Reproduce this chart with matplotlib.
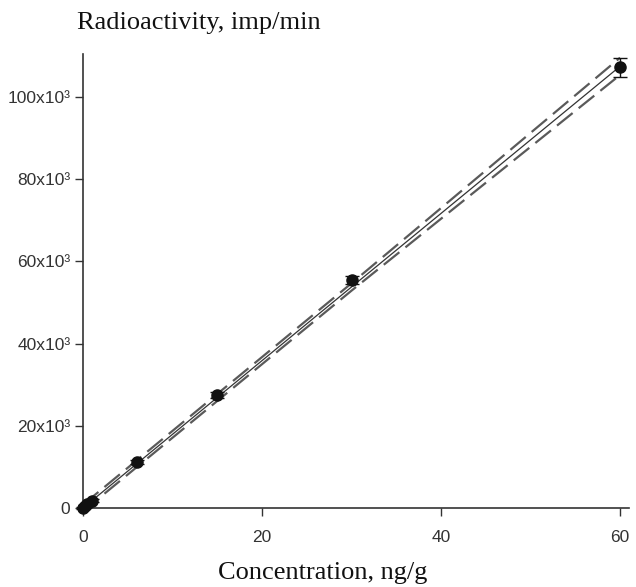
import numpy as np
import matplotlib
matplotlib.use('Agg')
import matplotlib.pyplot as plt

# Calibration data
conc = [0, 0.25, 0.5, 1.0, 6, 15, 30, 60]            # ng/g
activity = [0, 450, 900, 1800, 11200, 27500, 55500, 107300]  # imp/min
activity_err = [300, 300, 300, 400, 600, 700, 900, 2300]

# Regression line and its confidence band
band_x = [0, 30, 60]
fit_y = [0, 53800, 107500]
band_upper = [800, 54700, 109600]
band_lower = [-800, 52900, 105400]

yticks = [0, 20000, 40000, 60000, 80000, 100000]
ytick_labels = ['0', '20x10³', '40x10³', '60x10³', '80x10³', '100x10³']
xticks = [0, 20, 40, 60]

fig = plt.figure(figsize=(6.36, 5.87), dpi=100)
ax = fig.add_axes([0.1305, 0.1346, 0.8585, 0.7734])

ax.plot(band_x, fit_y, color='#333333', linewidth=0.9, zorder=2)
ax.plot(band_x, band_upper, color='#5a5a5a', linewidth=1.6,
        linestyle=(0, (9, 3.5)), zorder=2)
ax.plot(band_x, band_lower, color='#5a5a5a', linewidth=1.6,
        linestyle=(0, (9, 3.5)), zorder=2)
ax.errorbar(conc, activity, yerr=activity_err, fmt='o', color='#111111',
            markersize=8, elinewidth=1.0, capsize=5, capthick=1.0, zorder=3,
            clip_on=False)

ax.set_xlim(0, 61)
ax.set_ylim(0, 110500)
ax.set_xticks(xticks)
ax.set_xticklabels([str(t) for t in xticks])
ax.set_yticks(yticks)
ax.set_yticklabels(ytick_labels)

for s in ['top', 'right']:
    ax.spines[s].set_visible(False)
for s in ['left', 'bottom']:
    ax.spines[s].set_color('#333333')
    ax.spines[s].set_linewidth(1.2)

ax.tick_params(axis='both', direction='out', length=6, width=1.0,
               color='#333333', labelcolor='#333333', labelsize=12.5)
ax.tick_params(axis='x', pad=10)
ax.tick_params(axis='y', pad=3)
for lab in ax.get_xticklabels() + ax.get_yticklabels():
    lab.set_family('Liberation Sans')

fig.text(77 / 636, 1 - 23 / 587, 'Radioactivity, imp/min', family='Liberation Serif',
         fontsize=19, ha='left', va='center', color='#111111')
fig.text(323 / 636, 1 - 573 / 587, 'Concentration, ng/g', family='Liberation Serif',
         fontsize=19, ha='center', va='center', color='#111111')

plt.savefig('out.png', dpi=100)
plt.close()
